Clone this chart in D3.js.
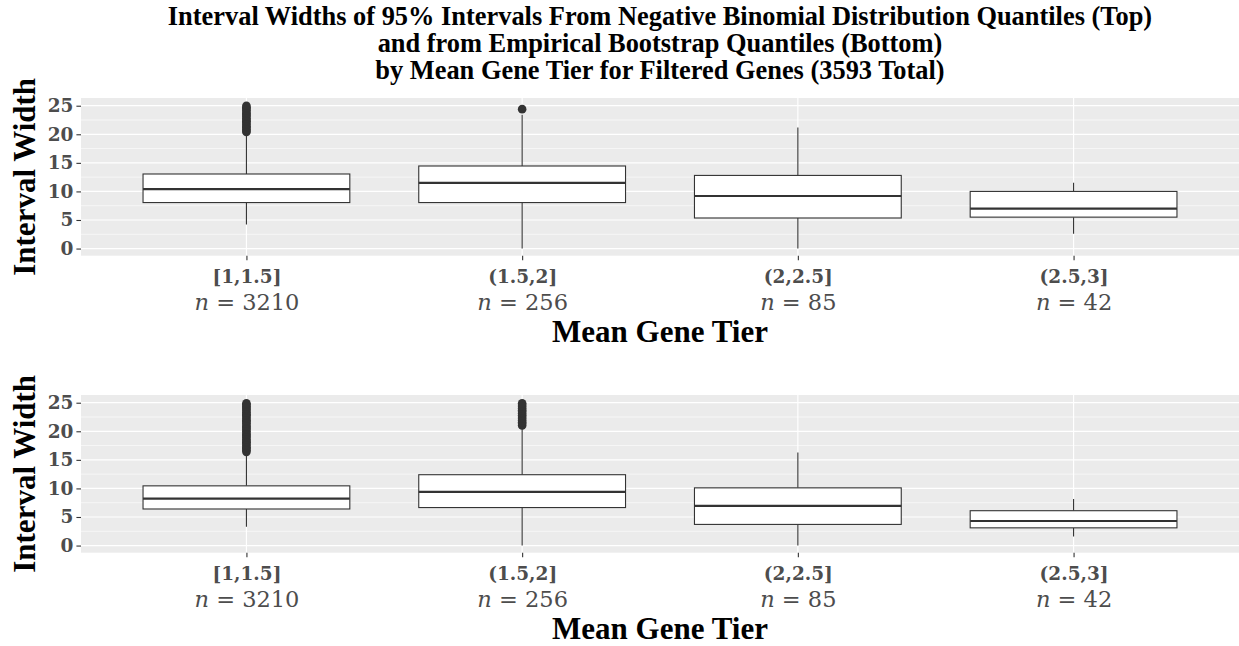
<!DOCTYPE html>
<html>
<head>
<meta charset="utf-8">
<script src="https://cdn.jsdelivr.net/npm/d3@7"></script>
<style>
  html, body { margin: 0; padding: 0; background: #ffffff; }
  svg { display: block; }
</style>
</head>
<body>
<svg id="chart" width="1239" height="646"></svg>
<script>
// Mean gene tier bins and number of genes in each
const tiers = ["[1,1.5]", "(1.5,2]", "(2,2.5]", "(2.5,3]"];
const tierN = [3210, 256, 85, 42];

// y-axis ticks
const yTicks = [0, 5, 10, 15, 20, 25];

// Negative binomial quantile interval widths: box-plot summaries per tier
const nbLower  = [4.2, 0.0, 0.0, 2.6];
const nbQ1     = [8.05, 8.05, 5.35, 5.5];
const nbMedian = [10.4, 11.5, 9.2, 7.0];
const nbQ3     = [13.05, 14.45, 12.8, 10.0];
const nbUpper  = [20.2, 23.4, 21.2, 11.5];
const nbOutliers1 = [20.4, 20.6, 20.9, 21.2, 21.4, 21.7, 22.0, 22.3, 22.5, 22.8, 23.1, 23.4, 23.6, 23.9, 24.2, 24.5, 24.7, 25.0];
const nbOutliers2 = [24.4];

// Empirical bootstrap quantile interval widths: box-plot summaries per tier
const bsLower  = [3.3, 0.0, 0.0, 1.6];
const bsQ1     = [6.4, 6.65, 3.7, 3.1];
const bsMedian = [8.2, 9.4, 6.95, 4.3];
const bsQ3     = [10.45, 12.4, 10.1, 6.1];
const bsUpper  = [16.1, 20.6, 16.3, 8.15];
const bsOutliers1 = [16.4, 16.7, 17.0, 17.2, 17.5, 17.8, 18.1, 18.3, 18.6, 18.9, 19.2, 19.4, 19.7, 20.0, 20.3, 20.6, 20.8, 21.1, 21.4, 21.7, 21.9, 22.2, 22.5, 22.8, 23.0, 23.3, 23.6, 23.9, 24.1, 24.4, 24.7, 24.9];
const bsOutliers2 = [21.0, 21.3, 21.6, 21.9, 22.2, 22.5, 22.8, 23.1, 23.4, 23.7, 24.0, 24.3, 24.6, 24.9];

const titleLines = [
  "Interval Widths of 95% Intervals From Negative Binomial Distribution Quantiles (Top)",
  "and from Empirical Bootstrap Quantiles (Bottom)",
  "by Mean Gene Tier for Filtered Genes (3593 Total)"
];

const panelLeft = 81, panelRight = 1239;
const panelH = 157.7;
const panelTops = [98, 395];

const svg = d3.select("#chart");
const titleFont = "'Liberation Serif', 'Times New Roman', serif";
const tickFont = "'DejaVu Serif', serif";

// Title
svg.append("g").selectAll("text").data(titleLines).join("text")
  .attr("x", (panelLeft + panelRight) / 2)
  .attr("y", (d, i) => 25 + i * 27)
  .attr("text-anchor", "middle")
  .attr("font-family", titleFont)
  .attr("font-weight", "bold")
  .attr("font-size", 26.4)
  .attr("fill", "#000")
  .text(d => d);

const x = d3.scalePoint().domain(tiers).range([panelLeft, panelRight]).padding(0.6);
const boxW = x.step() * 0.75;

function buildRows(lower, q1, med, q3, upper, outs) {
  return tiers.map((t, i) => ({
    tier: t, lower: lower[i], q1: q1[i], med: med[i], q3: q3[i], upper: upper[i],
    outliers: outs[i] || []
  }));
}

const panels = [
  buildRows(nbLower, nbQ1, nbMedian, nbQ3, nbUpper, [nbOutliers1, nbOutliers2]),
  buildRows(bsLower, bsQ1, bsMedian, bsQ3, bsUpper, [bsOutliers1, bsOutliers2])
];

panels.forEach((rows, p) => {
  const top = panelTops[p];
  const bottom = top + panelH;
  const y = d3.scaleLinear().domain([-1.25, 26.35]).range([bottom, top]);
  const g = svg.append("g");

  // panel background
  g.append("rect")
    .attr("x", panelLeft).attr("y", top)
    .attr("width", panelRight - panelLeft).attr("height", panelH)
    .attr("fill", "#EBEBEB");

  // minor horizontal grid
  const minor = [2.5, 7.5, 12.5, 17.5, 22.5];
  g.append("g").selectAll("line").data(minor).join("line")
    .attr("x1", panelLeft).attr("x2", panelRight)
    .attr("y1", d => y(d)).attr("y2", d => y(d))
    .attr("stroke", "#ffffff").attr("stroke-width", 0.6);
  // major horizontal grid
  g.append("g").selectAll("line").data(yTicks).join("line")
    .attr("x1", panelLeft).attr("x2", panelRight)
    .attr("y1", d => y(d)).attr("y2", d => y(d))
    .attr("stroke", "#ffffff").attr("stroke-width", 1.2);
  // vertical grid
  g.append("g").selectAll("line").data(tiers).join("line")
    .attr("x1", d => x(d)).attr("x2", d => x(d))
    .attr("y1", top).attr("y2", bottom)
    .attr("stroke", "#ffffff").attr("stroke-width", 1.2);

  // whiskers
  const bx = g.append("g").selectAll("g").data(rows).join("g");
  bx.append("line")
    .attr("x1", d => x(d.tier)).attr("x2", d => x(d.tier))
    .attr("y1", d => y(d.q3)).attr("y2", d => y(d.upper))
    .attr("stroke", "#333333").attr("stroke-width", 1.1);
  bx.append("line")
    .attr("x1", d => x(d.tier)).attr("x2", d => x(d.tier))
    .attr("y1", d => y(d.q1)).attr("y2", d => y(d.lower))
    .attr("stroke", "#333333").attr("stroke-width", 1.1);
  // boxes
  bx.append("rect")
    .attr("x", d => x(d.tier) - boxW / 2).attr("width", boxW)
    .attr("y", d => y(d.q3)).attr("height", d => y(d.q1) - y(d.q3))
    .attr("fill", "#ffffff").attr("stroke", "#333333").attr("stroke-width", 1.1);
  // medians
  bx.append("line")
    .attr("x1", d => x(d.tier) - boxW / 2).attr("x2", d => x(d.tier) + boxW / 2)
    .attr("y1", d => y(d.med)).attr("y2", d => y(d.med))
    .attr("stroke", "#333333").attr("stroke-width", 2.2);
  // outliers
  bx.selectAll("circle").data(d => d.outliers.map(v => ({ tier: d.tier, v }))).join("circle")
    .attr("cx", d => x(d.tier)).attr("cy", d => y(d.v)).attr("r", 4.3)
    .attr("fill", "#333333");

  // y axis
  const yAxis = g.append("g")
    .attr("transform", `translate(${panelLeft},0)`)
    .call(d3.axisLeft(y).tickValues(yTicks).tickSize(4.6).tickPadding(3))
    .call(a => a.select(".domain").remove());
  yAxis.selectAll(".tick line").attr("stroke", "#333333").attr("stroke-width", 1.1);
  yAxis.selectAll(".tick text")
    .attr("font-family", tickFont).attr("font-weight", "bold")
    .attr("font-size", 18.5).attr("fill", "#4D4D4D");

  // x axis: tier label with gene count beneath
  const xAxis = g.append("g")
    .attr("transform", `translate(0,${bottom})`)
    .call(d3.axisBottom(x).tickSize(4.6).tickFormat(""))
    .call(a => a.select(".domain").remove());
  xAxis.selectAll(".tick line").attr("stroke", "#333333").attr("stroke-width", 1.1);
  xAxis.selectAll(".tick text").remove();
  xAxis.selectAll(".tick").each(function (d, i) {
    const t = d3.select(this);
    t.append("text")
      .attr("y", 27.3).attr("text-anchor", "middle")
      .attr("font-family", tickFont).attr("font-weight", "bold")
      .attr("font-size", 18.5).attr("fill", "#4D4D4D")
      .text(d);
    const nt = t.append("text")
      .attr("y", 54).attr("text-anchor", "middle")
      .attr("font-family", tickFont)
      .attr("font-size", 22.5).attr("fill", "#4D4D4D");
    nt.append("tspan").attr("font-style", "italic").text("n");
    nt.append("tspan").text(" = " + tierN[i]);
  });

  // axis titles
  g.append("text")
    .attr("transform", `translate(35,${(top + bottom) / 2}) rotate(-90)`)
    .attr("text-anchor", "middle")
    .attr("font-family", titleFont).attr("font-weight", "bold")
    .attr("font-size", 31).attr("fill", "#000")
    .text("Interval Width");
  g.append("text")
    .attr("x", (panelLeft + panelRight) / 2).attr("y", bottom + 86)
    .attr("text-anchor", "middle")
    .attr("font-family", titleFont).attr("font-weight", "bold")
    .attr("font-size", 31).attr("fill", "#000")
    .text("Mean Gene Tier");
});
</script>
</body>
</html>
